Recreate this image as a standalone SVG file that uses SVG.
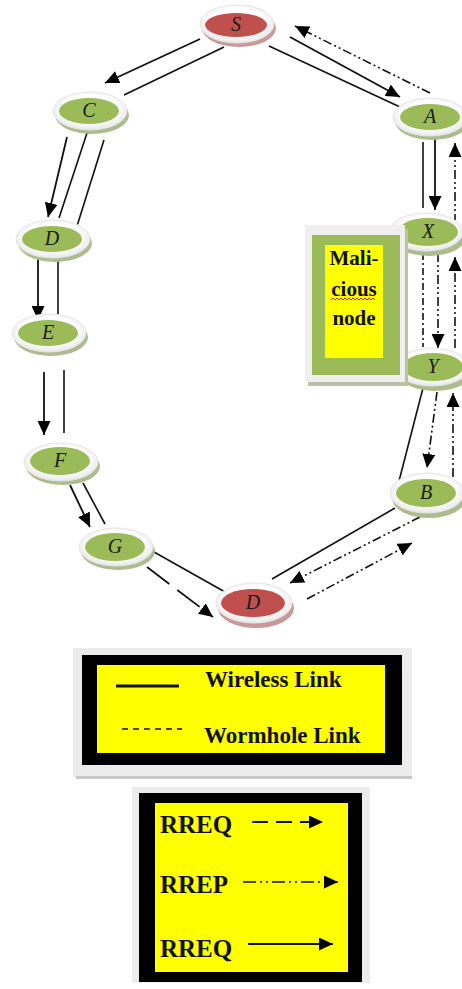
<svg xmlns="http://www.w3.org/2000/svg" width="462" height="989" viewBox="0 0 462 989">
<defs>
<marker id="ah" markerUnits="userSpaceOnUse" markerWidth="15" markerHeight="13" refX="14" refY="6.5" orient="auto"><path d="M0,0 L14,6.5 L0,13 z" fill="#000"/></marker>
<radialGradient id="rimg" cx="0.5" cy="0.45" r="0.6"><stop offset="0.6" stop-color="#ffffff"/><stop offset="1" stop-color="#e2e2e2"/></radialGradient>
</defs>
<style>
.shg{fill:#aebb8e}
.shr{fill:#c9999a}
.rim{fill:url(#rimg);stroke:#e6e6e6;stroke-width:1}
.green{fill:#9bbb59}
.red{fill:#c0504d}
.lbl{font-family:"Liberation Serif",serif;font-style:italic;font-size:20px;fill:#1a1a1a;text-anchor:middle}
.ln{fill:none;stroke:#111;stroke-width:1.6}
.ar{fill:none;stroke:#111;stroke-width:1.8;marker-end:url(#ah)}
.rrep{fill:none;stroke:#111;stroke-width:1.6;stroke-dasharray:9,3,2,3,2,3;marker-end:url(#ah)}
.rreqd{fill:none;stroke:#111;stroke-width:1.8;stroke-dasharray:28,10;marker-end:url(#ah)}
.worm{fill:none;stroke:#111;stroke-width:1.6;stroke-dasharray:7,3,2,3}
.bt{font-family:"Liberation Serif",serif;font-weight:bold;fill:#111}
</style>
<rect width="462" height="989" fill="#fff"/>

<g id="connectors">
<path class="ar" d="M200,39 L105,83"/>
<path class="ln" d="M224,47 L124,95"/>
<path class="ln" d="M269,46 L400,107"/>
<path class="ar" d="M290,37 L400,97"/>
<path class="rrep" d="M430,93 L295,26"/>
<path class="ar" d="M67,137 L48,217"/>
<path class="ln" d="M87,133 L59,218"/>
<path class="ln" d="M104,140 L77,226"/>
<path class="ar" d="M38,259 L38,320"/>
<path class="ln" d="M58,259 L58,322"/>
<path class="ar" d="M44,372 L44,435"/>
<path class="ln" d="M64,370 L64,433"/>
<path class="ar" d="M70,485 L90,527"/>
<path class="ln" d="M83,483 L105,524"/>
<path class="ln" d="M154,552 L225,592"/>
<path class="rreqd" d="M147,567 L213,617"/>
<path class="ln" d="M272,579 L395,508"/>
<path class="rrep" d="M420,517 L290,583"/>
<path class="rrep" d="M307,599 L412,543"/>
<path class="ln" d="M423,142 L423,208"/>
<path class="ar" d="M435,137 L435,210"/>
<path class="rrep" d="M455,223 L455,143"/>
<path class="worm" d="M423,253 L423,347"/>
<path class="rrep" d="M438,253 L438,348"/>
<path class="rrep" d="M455,348 L455,257"/>
<path class="ln" d="M423,388 L398,485"/>
<path class="rrep" d="M437,392 L427,468"/>
<path class="rrep" d="M453,477 L453,393"/>
</g>

<g id="node-S">
<ellipse class="shr" cx="239" cy="28" rx="37" ry="19"/>
<ellipse class="rim" cx="237" cy="24" rx="37" ry="19"/>
<ellipse class="red" cx="236" cy="25" rx="31" ry="12"/>
<text class="lbl" x="236" y="31">S</text>
</g>
<g id="node-C">
<ellipse class="shg" cx="92" cy="115" rx="37" ry="19"/>
<ellipse class="rim" cx="90" cy="111" rx="37" ry="19"/>
<ellipse class="green" cx="89" cy="111" rx="30" ry="13"/>
<text class="lbl" x="89" y="117">C</text>
</g>
<g id="node-A">
<ellipse class="shg" cx="432" cy="121" rx="37" ry="19"/>
<ellipse class="rim" cx="430" cy="117" rx="37" ry="19"/>
<ellipse class="green" cx="430" cy="117" rx="30" ry="13"/>
<text class="lbl" x="430" y="123">A</text>
</g>
<g id="node-D1">
<ellipse class="shg" cx="55" cy="243" rx="37" ry="19"/>
<ellipse class="rim" cx="53" cy="239" rx="37" ry="19"/>
<ellipse class="green" cx="52" cy="239" rx="30" ry="13"/>
<text class="lbl" x="52" y="245">D</text>
</g>
<g id="node-E">
<ellipse class="shg" cx="51" cy="337" rx="37" ry="19"/>
<ellipse class="rim" cx="49" cy="333" rx="37" ry="19"/>
<ellipse class="green" cx="48" cy="333" rx="30" ry="13"/>
<text class="lbl" x="48" y="339">E</text>
</g>
<g id="node-F">
<ellipse class="shg" cx="63" cy="466" rx="37" ry="19"/>
<ellipse class="rim" cx="61" cy="462" rx="37" ry="19"/>
<ellipse class="green" cx="60" cy="461" rx="30" ry="14"/>
<text class="lbl" x="60" y="467">F</text>
</g>
<g id="node-G">
<ellipse class="shg" cx="118" cy="551" rx="37" ry="19"/>
<ellipse class="rim" cx="116" cy="547" rx="37" ry="19"/>
<ellipse class="green" cx="115" cy="547" rx="30" ry="14"/>
<text class="lbl" x="115" y="553">G</text>
</g>
<g id="node-D2">
<ellipse class="shr" cx="256" cy="608" rx="38" ry="20"/>
<ellipse class="rim" cx="254" cy="603" rx="38" ry="20"/>
<ellipse class="red" cx="253" cy="603" rx="32" ry="14"/>
<text class="lbl" x="253" y="609">D</text>
</g>
<g id="node-B">
<ellipse class="shg" cx="429" cy="498" rx="37" ry="20"/>
<ellipse class="rim" cx="427" cy="493" rx="37" ry="20"/>
<ellipse class="green" cx="426" cy="493" rx="30" ry="14"/>
<text class="lbl" x="426" y="499">B</text>
</g>
<g id="node-X">
<ellipse class="shg" cx="429" cy="237" rx="37" ry="19"/>
<ellipse class="rim" cx="426" cy="232" rx="37" ry="19"/>
<ellipse class="green" cx="428" cy="232" rx="30" ry="14"/>
<text class="lbl" x="428" y="238">X</text>
</g>
<g id="node-Y">
<ellipse class="shg" cx="435" cy="372" rx="37" ry="19"/>
<ellipse class="rim" cx="432" cy="367" rx="37" ry="19"/>
<ellipse class="green" cx="433" cy="367" rx="30" ry="14"/>
<text class="lbl" x="433" y="373">Y</text>
</g>

<g id="malicious-node">
<rect x="308" y="229" width="100" height="157" fill="#b9c2a6"/>
<rect x="305" y="225" width="100" height="157" fill="#efefef"/>
<rect x="312" y="235" width="88" height="140" fill="#9bbb59"/>
<rect x="325" y="245" width="58" height="113" fill="#ffff00"/>
<text class="bt" x="354" y="265" font-size="21" text-anchor="middle">Mali-</text>
<text class="bt" x="354" y="296" font-size="21" text-anchor="middle">cious</text>
<text class="bt" x="354" y="325" font-size="21" text-anchor="middle">node</text>
<path d="M331,300 l2,-2 l2,2 l2,-2 l2,2 l2,-2 l2,2 l2,-2 l2,2 l2,-2 l2,2 l2,-2 l2,2 l2,-2 l2,2 l2,-2 l2,2 l2,-2 l2,2 l2,-2 l2,2 l2,-2 l2,2" fill="none" stroke="#e02020" stroke-width="1"/>
</g>

<g id="legend-links">
<rect x="73" y="648" width="339" height="129" fill="#ececec"/>
<rect x="76" y="776" width="336" height="3" fill="#c8c8c8"/>
<rect x="82" y="655" width="320" height="110" fill="#000"/>
<rect x="97" y="665" width="288" height="88" fill="#ffff00"/>
<line x1="116" y1="686" x2="179" y2="686" stroke="#111" stroke-width="3"/>
<text class="bt" x="205" y="687" font-size="23">Wireless Link</text>
<line x1="122" y1="729" x2="182" y2="729" stroke="#111" stroke-width="1.4" stroke-dasharray="6,5"/>
<text class="bt" x="204" y="743" font-size="23">Wormhole Link</text>
</g>

<g id="legend-messages">
<rect x="132" y="787" width="238" height="196" fill="#ececec"/>
<rect x="139" y="793" width="223" height="189" fill="#000"/>
<rect x="155" y="803" width="193" height="169" fill="#ffff00"/>
<text class="bt" x="160" y="833" font-size="25">RREQ</text>
<path d="M252,822 L323,822" fill="none" stroke="#111" stroke-width="1.8" stroke-dasharray="16,8" marker-end="url(#ah)"/>
<text class="bt" x="160" y="893" font-size="25">RREP</text>
<path d="M243,882 L338,882" fill="none" stroke="#111" stroke-width="1.6" stroke-dasharray="13,4,2,4,2,4" marker-end="url(#ah)"/>
<text class="bt" x="160" y="957" font-size="25">RREQ</text>
<path d="M248,944 L333,944" class="ar"/>
</g>
</svg>
